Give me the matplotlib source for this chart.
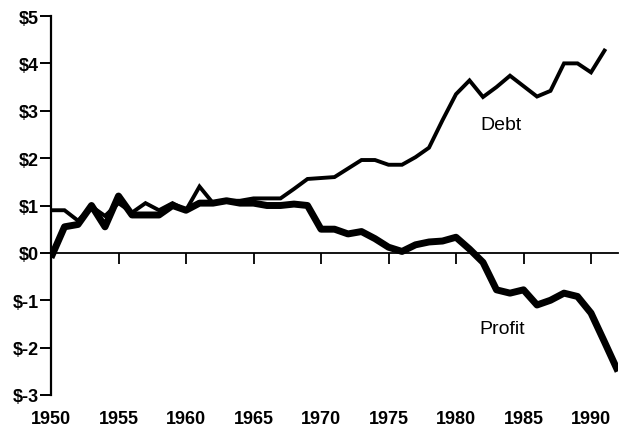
import matplotlib
matplotlib.use("Agg")
import matplotlib.pyplot as plt

plt.rcParams['font.family'] = ['Liberation Sans', 'DejaVu Sans']

debt_years = list(range(1950, 1992))
debt = [0.90, 0.90, 0.68, 0.98, 0.78, 1.05, 0.85, 1.05, 0.90, 1.05,
        0.90, 1.40, 1.05, 1.10, 1.10, 1.15, 1.15, 1.15, 1.35, 1.56,
        1.58, 1.60, 1.78, 1.96, 1.96, 1.86, 1.86, 2.02, 2.22, 2.80,
        3.35, 3.64, 3.29, 3.50, 3.74, 3.52, 3.30, 3.42, 4.00, 4.00,
        3.81, 4.27]

profit_years = list(range(1950, 1993))
profit = [-0.10, 0.55, 0.60, 1.00, 0.55, 1.20, 0.80, 0.80, 0.80, 1.00,
          0.90, 1.05, 1.05, 1.10, 1.05, 1.05, 1.00, 1.00, 1.03, 1.00,
          0.50, 0.50, 0.40, 0.45, 0.30, 0.12, 0.03, 0.17, 0.23, 0.25,
          0.33, 0.08, -0.20, -0.78, -0.85, -0.78, -1.10, -1.00, -0.85, -0.92,
          -1.27, -1.88, -2.50]

y_ticks = [5, 4, 3, 2, 1, 0, -1, -2, -3]
y_labels = ["$5", "$4", "$3", "$2", "$1", "$0", "$-1", "$-2", "$-3"]
x_ticks = [1950, 1955, 1960, 1965, 1970, 1975, 1980, 1985, 1990]
x_labels = [str(t) for t in x_ticks]

fig = plt.figure(figsize=(6.34, 4.31), dpi=100)
ax = fig.add_axes([51/634, 1 - 396/431, (618 - 51)/634, (396 - 17)/431])

ax.plot(debt_years, debt, color='black', lw=2.8, solid_joinstyle='miter')
ax.plot(profit_years, profit, color='black', lw=5.0, solid_joinstyle='round',
        solid_capstyle='butt')

ax.set_xlim(1950, 1992)
ax.set_ylim(-3, 5)

ax.spines['top'].set_visible(False)
ax.spines['right'].set_visible(False)
ax.spines['left'].set_linewidth(1.6)
ax.spines['bottom'].set_position(('data', 0))
ax.spines['bottom'].set_linewidth(1.3)

ax.set_yticks(y_ticks)
ax.set_yticklabels(y_labels, fontsize=13, fontweight='bold')
ax.tick_params(axis='y', direction='out', length=8, width=1.4, pad=1)

ax.set_xticks(x_ticks)
ax.tick_params(axis='x', direction='out', length=8, width=1.3, labelbottom=False)

sec = ax.secondary_xaxis(location=0)
sec.set_xticks(x_ticks)
sec.set_xticklabels(x_labels, fontsize=13, fontweight='bold')
sec.tick_params(length=0, pad=11)
sec.spines['bottom'].set_visible(False)

ax.text(1983.3, 2.72, "Debt", fontsize=14, ha='center', va='center')
ax.text(1983.4, -1.6, "Profit", fontsize=14, ha='center', va='center')

fig.savefig("out.png", dpi=100)
